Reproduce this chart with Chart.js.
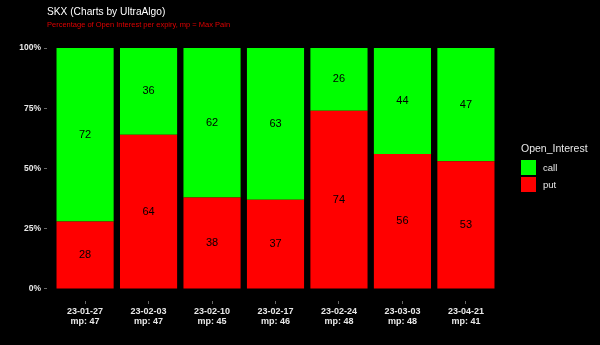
<!DOCTYPE html>
<html>
<head>
<meta charset="utf-8">
<script src="https://cdn.jsdelivr.net/npm/chart.js@4"></script>
<style>
  html, body { margin: 0; padding: 0; background: #000; }
  #wrap { width: 600px; height: 345px; position: relative; }
</style>
</head>
<body>
<div id="wrap"><canvas id="oi-chart"></canvas></div>
<script>
/* ---------- data ---------- */
const expiries = ["23-01-27", "23-02-03", "23-02-10", "23-02-17", "23-02-24", "23-03-03", "23-04-21"];
const maxPain = [47, 47, 45, 46, 48, 48, 41];
const putPct = [28, 64, 38, 37, 74, 56, 53];
const callPct = [72, 36, 62, 63, 26, 44, 47];
const yTicks = [0, 25, 50, 75, 100];

const FONT = "'Liberation Sans', Arial, sans-serif";
const GREEN = '#00ff00';
const RED = '#ff0000';
const TICK_TEXT = '#e8e8e8';

// bars sit at x = 1..7 on a linear scale so the side gaps can be set freely
const toPoints = arr => arr.map((v, i) => ({ x: i + 1, y: v }));

/* ---------- plugins ---------- */
const headerPlugin = {
    id: 'header',
    afterDraw(chart) {
        const ctx = chart.ctx;
        ctx.save();
        ctx.textBaseline = 'alphabetic';
        ctx.textAlign = 'left';
        ctx.fillStyle = '#ffffff';
        ctx.font = `10.2px ${FONT}`;
        ctx.fillText('SKX (Charts by UltraAlgo)', 47, 15);
        ctx.fillStyle = '#e00000';
        ctx.font = `7.5px ${FONT}`;
        ctx.fillText('Percentage of Open Interest per expiry, mp = Max Pain', 47, 27);
        ctx.restore();
    }
};

const valueLabels = {
    id: 'valueLabels',
    afterDatasetsDraw(chart) {
        const ctx = chart.ctx;
        ctx.save();
        ctx.fillStyle = '#000';
        ctx.font = `11px ${FONT}`;
        ctx.textAlign = 'center';
        ctx.textBaseline = 'middle';
        chart.data.datasets.forEach((ds, di) => {
            chart.getDatasetMeta(di).data.forEach((bar, i) => {
                const mid = (bar.y + bar.base) / 2;
                ctx.fillText(ds.data[i].y, bar.x, mid);
            });
        });
        ctx.restore();
    }
};

const sideLegend = {
    id: 'sideLegend',
    afterDraw(chart) {
        const ctx = chart.ctx;
        ctx.save();
        ctx.textAlign = 'left';
        ctx.textBaseline = 'middle';
        ctx.fillStyle = TICK_TEXT;
        ctx.font = `10.5px ${FONT}`;
        ctx.fillText('Open_Interest', 521, 149);
        const items = [['call', GREEN], ['put', RED]];
        items.forEach(([name, col], k) => {
            const y = 160 + k * 17;
            ctx.fillStyle = col;
            ctx.fillRect(521, y, 15, 15);
            ctx.fillStyle = TICK_TEXT;
            ctx.font = `9.5px ${FONT}`;
            ctx.fillText(name, 543, y + 8);
        });
        ctx.restore();
    }
};

/* ---------- chart ---------- */
const oiChart = new Chart(document.getElementById('oi-chart'), {
    type: 'bar',
    data: {
        datasets: [
            { label: 'put', data: toPoints(putPct), backgroundColor: RED, borderWidth: 0 },
            { label: 'call', data: toPoints(callPct), backgroundColor: GREEN, borderWidth: 0 }
        ]
    },
    options: {
        responsive: true,
        maintainAspectRatio: false,
        animation: false,
        layout: { padding: { top: 36, right: 96, left: 0, bottom: 0 } },
        datasets: { bar: { categoryPercentage: 1, barPercentage: 0.9 } },
        plugins: {
            legend: { display: false },
            tooltip: { enabled: false }
        },
        scales: {
            x: {
                type: 'linear',
                stacked: true,
                offset: false,
                min: 0.4,
                max: 7.6,
                afterBuildTicks: scale => { scale.ticks = expiries.map((_, i) => ({ value: i + 1 })); },
                afterFit: scale => { scale.height = 44; },
                border: { display: false },
                grid: { offset: false, drawOnChartArea: false, color: '#666', tickLength: 3 },
                ticks: {
                    autoSkip: false,
                    maxRotation: 0,
                    padding: 3,
                    color: TICK_TEXT,
                    font: { family: FONT, size: 9, weight: 'bold', lineHeight: 1.1 },
                    callback: v => [expiries[v - 1], 'mp: ' + maxPain[v - 1]]
                }
            },
            y: {
                stacked: true,
                min: -5,
                max: 105,
                afterBuildTicks: scale => { scale.ticks = yTicks.map(v => ({ value: v })); },
                afterFit: scale => { scale.width = 47; },
                border: { display: false },
                grid: { drawOnChartArea: false, color: '#666', tickLength: 3 },
                ticks: {
                    padding: 3,
                    color: TICK_TEXT,
                    font: { family: FONT, size: 8.5, weight: 'bold' },
                    callback: v => v + '%'
                }
            }
        }
    },
    plugins: [headerPlugin, valueLabels, sideLegend]
});
</script>
</body>
</html>
